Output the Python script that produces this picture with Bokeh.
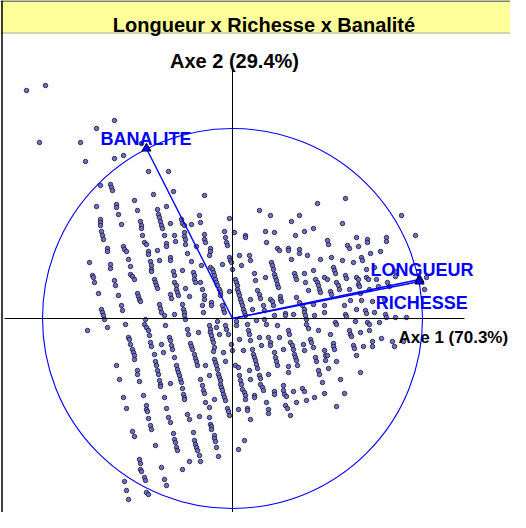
from bokeh.plotting import figure
from bokeh.models import Range1d, ColumnDataSource
from bokeh.core.properties import value
from bokeh.embed import file_html
from bokeh.resources import INLINE

TITLE = "Longueur x Richesse x Banalité"
AXIS1_LABEL = "Axe 1 (70.3%)"
AXIS2_LABEL = "Axe 2 (29.4%)"

# variable coordinates on the correlation circle (radius 1)
var_names = ["BANALITE", "LONGUEUR", "RICHESSE"]
var_f1 = [-0.453, 0.984, 0.985]
var_f2 = [0.895, 0.205, 0.195]

# radius of the correlation circle expressed in individual-score units
R = 190

# individual scores (F1, F2), grouped by region
scores_top_left = [(-206, 228), (-187, 233), (-118, 198), (-136, 190), (-193, 176), (-152, 176), (-147, 157)]

scores_upper_left = [
    (-91, 175), (-118, 160), (-109, 163), (-84, 147), (-64, 147), (-132, 133), (-122, 134), (-121, 131),
    (-120, 128), (-59, 127), (-79, 124), (-28, 123), (-98, 118), (-116, 114), (-116, 111), (-114, 104),
    (-136, 112), (-66, 112), (-95, 108), (-75, 109), (-74, 104), (-73, 101), (-33, 103), (-132, 99),
    (-132, 96), (-132, 93), (-92, 97), (-91, 93), (-91, 90), (-72, 97), (-71, 93), (-70, 90),
    (-111, 94), (-62, 95), (-51, 99), (-50, 95), (-48, 93), (-41, 94), (-32, 96), (-131, 87),
    (-130, 83), (-129, 79), (-90, 83), (-68, 83), (-58, 83), (-48, 86), (-48, 82), (-47, 79),
    (-47, 74), (-28, 84), (-28, 79), (-27, 76), (-57, 77), (-88, 76), (-86, 74), (-109, 72),
    (-108, 69), (-106, 67), (-66, 75), (-66, 72), (-36, 72), (-125, 70), (-125, 67), (-84, 67),
    (-84, 64), (-75, 68), (-104, 59), (-62, 61), (-62, 58), (-82, 57), (-81, 53), (-81, 49),
    (-81, 47), (-73, 58), (-45, 65), (-41, 57), (-143, 56), (-122, 54), (-122, 50), (-102, 52),
    (-31, 53), (-102, 44), (-100, 42), (-98, 39), (-59, 47), (-58, 43), (-50, 48), (-39, 46),
    (-38, 43), (-38, 39), (-37, 36), (-140, 43), (-139, 41), (-138, 36), (-118, 38), (-117, 33),
    (-78, 39), (-77, 36), (-76, 33), (-75, 30), (-58, 36), (-56, 33), (-56, 29), (-55, 26),
    (-54, 23), (-47, 30), (-32, 36), (-30, 29), (-28, 23), (-28, 19), (-134, 25), (-114, 23),
    (-95, 25), (-94, 22), (-93, 19), (-92, 17), (-43, 22), (-62, 24), (-61, 20), (-111, 13),
    (-110, 8), (-73, 14), (-72, 10), (-71, 6), (-68, 3), (-50, 14), (-49, 9), (-48, 6),
    (-48, 3), (-47, -1), (-131, 9), (-130, 6), (-129, 3), (-128, -1), (-58, 4), (-30, 13),
    (-29, 6), (-87, -1), (-107, -6), (-67, -7),
]

scores_upper_middle = [
    (85, 115), (27, 108), (38, 103), (67, 103), (-3, 100), (59, 97), (-8, 87), (-7, 81),
    (-6, 76), (-5, 73), (2, 86), (13, 83), (13, 81), (33, 87), (42, 86), (72, 87),
    (81, 90), (63, 83), (34, 76), (45, 70), (47, 68), (56, 70), (56, 68), (67, 69),
    (67, 65), (-22, 70), (-22, 67), (-23, 63), (7, 63), (17, 63), (18, 58), (-3, 61),
    (-2, 58), (-1, 56), (59, 59), (75, 63), (88, 59), (-10, 54), (9, 53), (39, 56),
    (40, 53), (41, 49), (-22, 51), (-20, 49), (-19, 46), (0, 49), (22, 45), (62, 45),
    (63, 42), (64, 39), (72, 45), (81, 48), (-18, 43), (-17, 39), (-16, 36), (-15, 33),
    (-13, 29), (-12, 26), (-12, 23), (3, 39), (4, 36), (5, 33), (5, 29), (6, 26),
    (7, 23), (8, 19), (9, 16), (10, 13), (11, 9), (12, 6), (13, 3), (33, 41),
    (42, 44), (43, 41), (44, 38), (45, 34), (46, 31), (23, 38), (73, 36), (83, 39),
    (85, 36), (86, 33), (87, 29), (88, 26), (92, 41), (76, 28), (25, 28), (27, 24),
    (28, 20), (-3, 27), (18, 19), (38, 19), (40, 17), (41, 13), (48, 22), (48, 19),
    (49, 17), (-21, 16), (-21, 13), (64, 21), (67, 16), (81, 14), (-10, 13), (-9, 9),
    (-8, 6), (20, 9), (31, 13), (32, 8), (70, 13), (72, 9), (72, 6), (73, 3),
    (74, -1), (53, 5), (53, 3), (42, 3), (61, 4), (82, 3), (92, 13), (92, 6),
    (32, -1), (4, -3), (24, -2), (-15, -3),
]

scores_upper_right = [
    (113, 120), (169, 103), (110, 95), (183, 83), (95, 78), (96, 74), (124, 81), (135, 79),
    (135, 76), (154, 81), (154, 77), (115, 73), (117, 70), (126, 72), (138, 65), (148, 67),
    (99, 61), (110, 58), (121, 56), (129, 61), (130, 58), (101, 51), (102, 48), (103, 45),
    (142, 51), (163, 47), (134, 49), (113, 43), (114, 40), (124, 41), (126, 39), (134, 41),
    (136, 39), (144, 39), (163, 42), (194, 41), (95, 39), (104, 36), (106, 33), (107, 29),
    (117, 29), (126, 34), (127, 32), (155, 36), (157, 32), (137, 29), (98, 27), (99, 24),
    (128, 25), (146, 32), (192, 29), (118, 18), (129, 18), (140, 17), (152, 19), (112, 13),
    (124, 9), (133, 8), (134, 5), (142, 6), (153, 4), (154, 1), (174, 1), (113, 4),
    (114, 2), (103, -4), (123, -3), (135, -4), (137, -6), (147, -4), (163, 1),
]

scores_lower_left = [
    (-145, -12), (-125, -9), (-88, -6), (-86, -9), (-84, -12), (-83, -17), (-45, -11), (-44, -16),
    (-34, -14), (-104, -19), (-103, -21), (-102, -26), (-82, -24), (-81, -28), (-63, -19), (-62, -22),
    (-61, -27), (-60, -31), (-71, -26), (-42, -25), (-41, -28), (-40, -31), (-100, -31), (-99, -34),
    (-98, -37), (-98, -41), (-69, -34), (-78, -36), (-58, -39), (-38, -36), (-37, -40), (-36, -43),
    (-35, -47), (-116, -47), (-77, -43), (-76, -47), (-75, -52), (-74, -56), (-56, -47), (-55, -51),
    (-54, -54), (-53, -57), (-52, -61), (-51, -64), (-27, -47), (-95, -52), (-95, -56), (-113, -61),
    (-93, -63), (-73, -62), (-72, -66), (-72, -68), (-62, -65), (-32, -61), (-50, -70), (-49, -76),
    (-48, -79), (-48, -81), (-30, -67), (-29, -72), (-28, -75), (-27, -84), (-109, -79), (-89, -77),
    (-68, -79), (-106, -90), (-86, -87), (-86, -91), (-85, -93), (-84, -100), (-66, -90), (-45, -96),
    (-43, -101), (-33, -98), (-64, -99), (-62, -104), (-82, -107), (-81, -111), (-100, -113), (-98, -118),
    (-59, -115), (-39, -114), (-58, -121), (-57, -124), (-56, -129), (-55, -132), (-38, -122), (-37, -126),
    (-36, -129), (-35, -132), (-33, -137), (-77, -127), (-93, -141), (-92, -145), (-43, -143), (-32, -143),
    (-71, -149), (-50, -151), (-92, -151), (-91, -153), (-88, -159), (-87, -162), (-68, -161), (-66, -167),
    (-108, -163), (-106, -172), (-86, -174), (-84, -176), (-104, -181),
]

scores_lower_middle = [
    (-23, -7), (-22, -11), (-22, -14), (-21, -17), (-20, -21), (-19, -24), (-18, -29), (-19, -33),
    (-16, -9), (-13, -16), (-7, -7), (-6, -11), (-4, -16), (4, -7), (15, -6), (16, -12),
    (17, -16), (18, -22), (34, -6), (45, -7), (56, -12), (57, -16), (74, -6), (76, -10),
    (86, -12), (7, -21), (27, -19), (36, -19), (38, -24), (38, -27), (47, -19), (58, -24),
    (60, -27), (61, -31), (62, -36), (63, -39), (64, -42), (65, -47), (78, -21), (79, -24),
    (81, -29), (71, -26), (-1, -26), (0, -32), (-9, -34), (11, -32), (20, -31), (21, -36),
    (22, -39), (23, -42), (24, -46), (25, -50), (29, -27), (42, -34), (43, -39), (44, -43),
    (45, -47), (51, -31), (72, -32), (92, -32), (83, -39), (84, -43), (93, -37), (93, -42),
    (-18, -41), (-17, -44), (-16, -47), (-15, -51), (-7, -43), (3, -47), (6, -49), (17, -52),
    (56, -48), (56, -54), (-23, -57), (27, -57), (28, -60), (36, -56), (86, -52), (87, -56),
    (-14, -56), (-13, -59), (7, -57), (8, -62), (9, -66), (18, -61), (-12, -62), (-12, -66),
    (-11, -69), (-10, -72), (-9, -76), (90, -64), (28, -66), (30, -69), (31, -72), (51, -67),
    (10, -71), (12, -74), (13, -77), (13, -81), (42, -73), (42, -76), (51, -72), (52, -76),
    (54, -78), (61, -73), (70, -70), (72, -73), (92, -75), (82, -79), (22, -77), (22, -79),
    (-8, -79), (-7, -82), (-18, -81), (34, -84), (64, -84), (74, -82), (53, -87), (55, -90),
    (58, -97), (-23, -89), (-5, -90), (-4, -93), (-3, -97), (6, -91), (15, -90), (15, -92),
    (36, -91), (36, -95), (-23, -99), (18, -101), (-22, -106), (-21, -108), (-21, -111), (-18, -117),
    (-18, -120), (-17, -123), (12, -122), (-16, -129), (6, -131), (-14, -138),
]

scores_lower_right = [
    (104, -6), (98, -16), (117, -12), (118, -16), (119, -18), (128, -14), (137, -12), (101, -25),
    (101, -28), (102, -31), (121, -27), (122, -30), (131, -28), (140, -23), (140, -28), (149, -20),
    (160, -23), (162, -28), (171, -23), (95, -37), (96, -50), (124, -37), (104, -43), (128, -54),
    (108, -61), (112, -75), (104, -88),
]

all_scores = (scores_top_left + scores_upper_left + scores_upper_middle + scores_upper_right
              + scores_lower_left + scores_lower_middle + scores_lower_right)
pts = ColumnDataSource(dict(f1=[s[0] for s in all_scores], f2=[s[1] for s in all_scores]))

# ---- figure: one unit = one pixel, origin of the factorial plane at (0, 0)
X0, X1 = -232, 278
Y0, Y1 = -194, 318
p = figure(width=510, height=512, x_range=Range1d(X0, X1), y_range=Range1d(Y0, Y1),
           x_axis_type=None, y_axis_type=None, toolbar_location=None, output_backend="svg",
           min_border=0, outline_line_color=None,
           background_fill_color="white", border_fill_color="white")

FONT = value("Liberation Sans")

# title bar
p.quad(left=[X0], right=[X1], top=[Y1 - 1], bottom=[Y1 - 32], fill_color="#ffff99", line_color=None)
p.segment(x0=[X0], y0=[Y1 - 32.5], x1=[X1], y1=[Y1 - 32.5], line_color="#a8a878", line_width=1)
p.segment(x0=[X0 + 1.5], y0=[Y1], x1=[X0 + 1.5], y1=[Y0], line_color="black", line_width=1.5)
p.segment(x0=[X0], y0=[Y1 - 0.5], x1=[X1], y1=[Y1 - 0.5], line_color="black", line_width=1.2)
p.text(x=[31.5], y=[Y1 - 24], text=[TITLE], text_font=FONT, text_font_style="bold",
       text_font_size="20px", text_color="black", text_align="center", text_baseline="alphabetic")

# individuals
p.scatter("f1", "f2", source=pts, marker="circle", size=4.5, fill_color="#6e6ec8",
          line_color="#15152a", line_width=0.8)

# factorial axes
p.segment(x0=[-228], y0=[0], x1=[232], y1=[0], line_color="black", line_width=1)
p.segment(x0=[0], y0=[252], x1=[0], y1=[Y0], line_color="black", line_width=1)
p.text(x=[2], y=[258], text=[AXIS2_LABEL], text_font=FONT, text_font_style="bold",
       text_font_size="20px", text_color="black", text_align="center", text_baseline="alphabetic")
p.text(x=[166], y=[-19], text=[AXIS1_LABEL], text_font=FONT, text_font_style="bold",
       text_font_size="17px", text_color="black", text_align="left", text_baseline="alphabetic")

# correlation circle
p.circle(x=[0], y=[0], radius=R, fill_color=None, line_color="#0000ff", line_width=1.1)

# variable arrows
tips_x = [v * R for v in var_f1]
tips_y = [v * R for v in var_f2]
p.segment(x0=[0] * 3, y0=[0] * 3, x1=tips_x, y1=tips_y, line_color="#0000ff", line_width=1.4)
p.scatter(tips_x, tips_y, marker="triangle", size=9, fill_color="#0000ff", line_color="#000033",
          line_width=1)

label_dx = [-46, -49, -44]
label_dy = [9, 10, -22]
p.text(x=[tx + d for tx, d in zip(tips_x, label_dx)], y=[ty + d for ty, d in zip(tips_y, label_dy)],
       text=var_names, text_font=FONT, text_font_style="bold", text_font_size="18px",
       text_color="#0000ff", text_align="left", text_baseline="alphabetic")

open("out.html", "w").write(file_html(p, INLINE))
